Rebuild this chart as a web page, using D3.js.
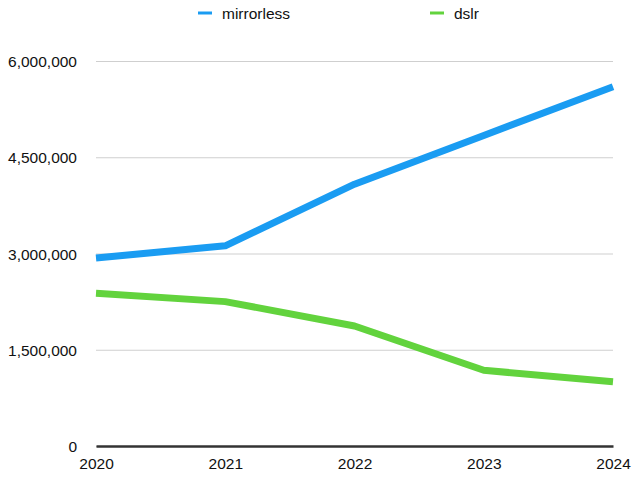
<!doctype html>
<html>
<head>
  <meta charset="utf-8">
  <script src="https://d3js.org/d3.v7.min.js"></script>
</head>
<style>
  body { margin: 0; background: #fff; }
  svg text { font-family: "Liberation Sans", Arial, sans-serif; font-size: 15.5px; fill: #111; }
</style>
<body>
<svg></svg>
<script>
  const years = ["2020", "2021", "2022", "2023", "2024"];
  const mirrorless = [2930000, 3120000, 4080000, 4840000, 5600000];
  const dslr = [2380000, 2250000, 1870000, 1180000, 1000000];
  const yTicks = [0, 1500000, 3000000, 4500000, 6000000];
  const seriesNames = ["mirrorless", "dslr"];
  const seriesColors = ["#1a9cf2", "#62d33d"];

  const width = 640, height = 480;
  const margin = { left: 96, right: 27, top: 61, bottom: 34 };

  const svg = d3.select("svg")
    .attr("width", width)
    .attr("height", height);

  const x = d3.scalePoint()
    .domain(years)
    .range([margin.left, width - margin.right]);
  const y = d3.scaleLinear()
    .domain([0, 6000000])
    .range([height - margin.bottom, margin.top]);

  // gridlines + y labels
  const yAxis = d3.axisLeft(y)
    .tickValues(yTicks)
    .tickSize(-(width - margin.left - margin.right))
    .tickPadding(19)
    .tickFormat(d3.format(","));
  const gy = svg.append("g")
    .attr("transform", `translate(${margin.left},0)`)
    .call(yAxis);
  gy.select(".domain").remove();
  gy.selectAll(".tick line").attr("stroke", "#cfcfcf").attr("stroke-width", 1);
  gy.selectAll(".tick text").attr("fill", "#111").attr("dy", "0.36em");

  // x axis
  const xAxis = d3.axisBottom(x).tickSize(0).tickPadding(8);
  const gx = svg.append("g")
    .attr("transform", `translate(0,${y(0)})`)
    .call(xAxis);
  gx.select(".domain").attr("stroke", "#333").attr("stroke-width", 2.5);
  gx.selectAll(".tick text").attr("fill", "#111").attr("dy", "0.95em");

  const line = d3.line()
    .x((d, i) => x(years[i]))
    .y(d => y(d));

  [mirrorless, dslr].forEach(function (values, i) {
    svg.append("path")
      .datum(values)
      .attr("fill", "none")
      .attr("stroke", seriesColors[i])
      .attr("stroke-width", 7)
      .attr("stroke-linejoin", "round")
      .attr("d", line);
  });

  // legend
  const legendX = [198, 430];
  seriesNames.forEach(function (name, i) {
    const g = svg.append("g").attr("transform", `translate(${legendX[i]},13)`);
    g.append("line")
      .attr("x1", 0).attr("x2", 14)
      .attr("stroke", seriesColors[i])
      .attr("stroke-width", 3);
    g.append("text")
      .attr("x", 24)
      .attr("y", 5.5)
      .text(name);
  });
</script>
</body>
</html>
